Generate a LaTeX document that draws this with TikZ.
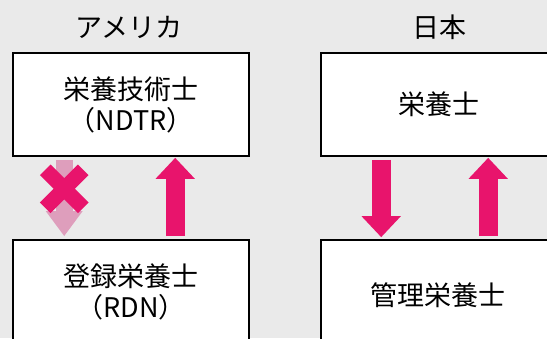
\documentclass[tikz,border=0pt]{standalone}
\usepackage{fontspec}
\setmainfont{Noto Sans CJK JP}
\usetikzlibrary{arrows.meta,calc}
\definecolor{bg}{RGB}{234,234,234}
\definecolor{mag}{RGB}{232,20,108}
\definecolor{faded}{RGB}{222,158,188}
\tikzset{
  box/.style={draw=black, line width=1.6pt, fill=white, minimum width=236pt, minimum height=103pt, inner sep=0pt, align=center, font=\fontsize{27}{31}\selectfont},
  title/.style={font=\fontsize{27}{31}\selectfont, inner sep=0pt},
  bigarrow/.style={line width=19pt, draw=mag, -{Triangle[width=38pt,length=21pt]}},
  fadedarrow/.style={line width=17pt, draw=faded, -{Triangle[width=35pt,length=25pt]}},
  cross/.style={line width=15pt, draw=mag}
}
\begin{document}
\begin{tikzpicture}[x=1pt,y=-1pt]
\useasboundingbox (0,0) rectangle (547,338);
\fill[bg] (0,0) rectangle (547,338);
\begin{scope}
\clip (0,0) rectangle (547,338);
\node[title] (us) at (129,27) {アメリカ};
\node[title] (jp) at (439,27) {日本};
\node[box] (ndtr) at (131,104.5) {栄養技術士\\（NDTR）};
\node[box] (rdn) at (131,291.5) {登録栄養士\\（RDN）};
\node[box] (eiyo) at (439,104.5) {栄養士};
\node[box] (kanri) at (439,291.5) {};
\node[font=\fontsize{27}{31}\selectfont, inner sep=0pt] (kanritxt) at (438,295) {管理栄養士};
% left column
\draw[fadedarrow] ($(ndtr.south west)+(52,3)$) -- ($(rdn.north west)+(52,-3)$);
\coordinate (xc) at ($(ndtr.south west)+(52,32)$);
\draw[cross] ($(xc)+(-19,-19)$) -- ($(xc)+(19,19)$);
\draw[cross] ($(xc)+(-19,19)$) -- ($(xc)+(19,-19)$);
\draw[bigarrow] ($(rdn.north west)+(163,-3)$) -- ($(ndtr.south west)+(163,1)$);
% right column
\draw[bigarrow] ($(eiyo.south west)+(61,3)$) -- ($(kanri.north west)+(61,-2)$);
\draw[bigarrow] ($(kanri.north west)+(168,-3)$) -- ($(eiyo.south west)+(168,1)$);
\end{scope}
\end{tikzpicture}
\end{document}
